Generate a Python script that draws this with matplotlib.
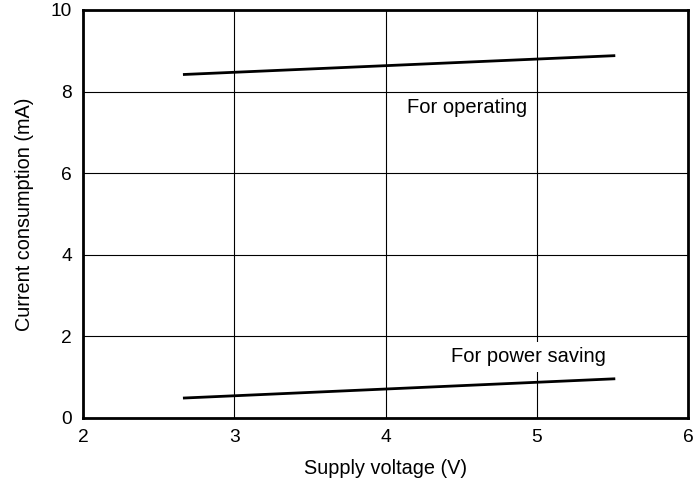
import matplotlib
matplotlib.use("Agg")
import matplotlib.pyplot as plt

plt.rcParams['font.family'] = ['Liberation Sans', 'DejaVu Sans']

voltage = [2.67, 5.51]
operating = [8.42, 8.88]
power_saving = [0.49, 0.96]
x_ticks = [2, 3, 4, 5, 6]
y_ticks = [0, 2, 4, 6, 8, 10]

fig = plt.figure(figsize=(6.94, 4.84), dpi=100)
ax = fig.add_axes([83/694, (484-418)/484, (688-83)/694, (418-10)/484])

ax.plot(voltage, operating, color='black', lw=2.0, zorder=3)
ax.plot(voltage, power_saving, color='black', lw=2.0, zorder=3)

ax.set_xlim(2, 6)
ax.set_ylim(0, 10)
ax.set_xticks(x_ticks)
ax.set_yticks(y_ticks)
ax.grid(True, color='black', lw=0.8)
ax.set_axisbelow(True)
ax.tick_params(length=0, labelsize=13.8, pad=8)
for s in ax.spines.values():
    s.set_linewidth(2.0)
    s.set_color('black')

ax.set_xlabel('Supply voltage (V)', fontsize=14.3, labelpad=9)
ax.set_ylabel('Current consumption (mA)', fontsize=14.3, labelpad=12)

ax.text(4.14, 7.62, 'For operating', fontsize=14.5, ha='left', va='center',
        bbox=dict(facecolor='white', edgecolor='none', pad=2), zorder=4)
ax.text(4.43, 1.5, 'For power saving', fontsize=14.5, ha='left', va='center',
        bbox=dict(facecolor='white', edgecolor='none', pad=4), zorder=4)

fig.savefig('out.png', dpi=100, facecolor='white')
